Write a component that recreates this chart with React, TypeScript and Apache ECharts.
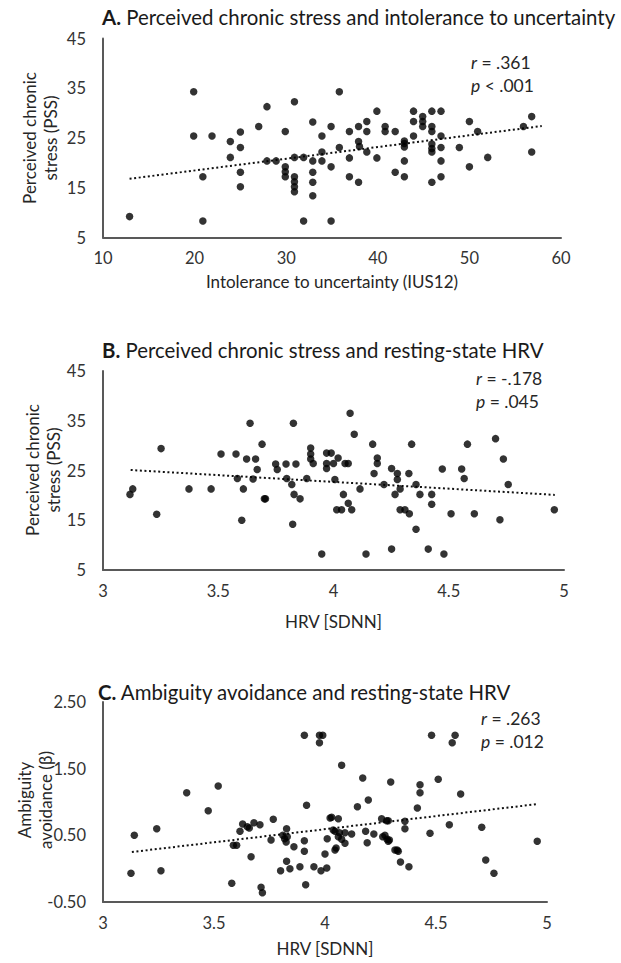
import React, { useEffect, useRef } from "react";
import * as echarts from "echarts";

// ---------- Panel A: PSS vs IUS12 ----------
const pointsA: [number, number][] = [
  [12.9, 9.2], [19.9, 34.3], [19.9, 25.4], [21.9, 25.4], [20.9, 17.2], [20.9, 8.3],
  [23.9, 24.3], [23.9, 21.1], [25, 26.2], [25, 23.1], [25, 18.1], [25, 15.2],
  [27, 27.3], [27.9, 31.3], [27.9, 20.4], [28.9, 20.4], [29.9, 26.3], [29.9, 19.2],
  [29.9, 18.2], [29.9, 17.2], [30.9, 32.3], [30.9, 21.1], [30.9, 17.2], [30.9, 16.2],
  [30.9, 15.2], [30.9, 14.2], [31.9, 21.1], [31.9, 8.3], [32.9, 28.2], [32.9, 20.4],
  [32.9, 18.1], [32.9, 16.1], [32.9, 13.4], [33.9, 25.4], [33.9, 22.2], [33.9, 20.4],
  [34.9, 27.3], [34.9, 19.2], [34.9, 8.3], [35.8, 34.3], [35.8, 23.1], [36.9, 26.3],
  [36.9, 21], [36.9, 17.2], [37.9, 27.3], [37.9, 24.3], [38, 23.3], [37.9, 16.1],
  [38.8, 28.3], [38.8, 26.3], [38.8, 22.2], [39.9, 30.4], [39.9, 21], [40.8, 27.3],
  [40.8, 26.3], [41.9, 26.3], [41.9, 18.1], [42.9, 24.4], [42.9, 23.9], [42.9, 23.2],
  [42.9, 20.4], [42.9, 17.2], [43.9, 30.4], [43.9, 28.3], [43.9, 25.4], [44.9, 29.3],
  [44.9, 28.3], [44.9, 27.3], [45.9, 30.4], [45.9, 27.3], [45.9, 26.3], [45.9, 23.8],
  [45.9, 22.9], [45.9, 22.2], [45.9, 16.1], [46.9, 30.4], [46.9, 25.4], [46.9, 23.1],
  [46.9, 20.4], [46.9, 17.2], [48.9, 23.1], [50, 28.3], [50, 19.2], [50.9, 26.3],
  [52, 21.1], [55.9, 27.3], [56.8, 29.3], [56.8, 22.2],
];
const trendA: [number, number][] = [[12.9, 16.8], [57.9, 27.4]];

// ---------- Panel B: PSS vs HRV ----------
const pointsB: [number, number][] = [
  [3.117, 20.2], [3.129, 21.3], [3.252, 29.4], [3.233, 16.2], [3.373, 21.3], [3.469, 21.3],
  [3.512, 28.3], [3.577, 28.3], [3.583, 23.4], [3.602, 15.0], [3.609, 21.3], [3.623, 27.3],
  [3.638, 34.5], [3.651, 23.3], [3.662, 27.3], [3.669, 25.2], [3.69, 30.3], [3.70, 19.3],
  [3.705, 19.3], [3.749, 26.3], [3.756, 25.2], [3.794, 26.3], [3.797, 23.4], [3.819, 22.2],
  [3.823, 14.2], [3.826, 34.5], [3.829, 20.2], [3.837, 26.3], [3.855, 19.3], [3.884, 23.4],
  [3.901, 29.5], [3.901, 28.3], [3.901, 27.3], [3.912, 26.4], [3.949, 8.2], [3.97, 28.5],
  [3.99, 28.5], [3.97, 26.4], [3.97, 25.4], [4.006, 23.2], [4.02, 27.5], [4.0, 26.4],
  [4.05, 26.4], [4.064, 26.4], [4.043, 20.2], [4.014, 17.1], [4.035, 17.1], [4.064, 18.4],
  [4.079, 17.1], [4.072, 36.5], [4.09, 32.3], [4.115, 21.3], [4.141, 8.2], [4.17, 30.3],
  [4.19, 27.5], [4.19, 26.4], [4.176, 24.4], [4.219, 22.2], [4.252, 25.4], [4.277, 24.4],
  [4.277, 23.2], [4.267, 20.2], [4.289, 21.3], [4.339, 30.3], [4.327, 24.4], [4.358, 22.2],
  [4.375, 20.2], [4.426, 20.2], [4.426, 18.2], [4.358, 13.2], [4.289, 17.1], [4.31, 17.1],
  [4.329, 16.3], [4.252, 9.2], [4.411, 9.2], [4.479, 8.2], [4.472, 25.3], [4.51, 16.3],
  [4.556, 25.3], [4.567, 23.4], [4.581, 30.3], [4.611, 16.3], [4.703, 31.4], [4.737, 27.3],
  [4.758, 22.2], [4.722, 15.1], [4.958, 17.1],
];
const trendB: [number, number][] = [[3.12, 25.1], [4.96, 20.1]];

// ---------- Panel C: Ambiguity avoidance vs HRV ----------
const pointsC: [number, number][] = [
  [3.126, -0.07], [3.141, 0.5], [3.242, 0.6], [3.261, -0.03], [3.377, 1.14], [3.474, 0.87],
  [3.519, 1.24], [3.58, -0.22], [3.587, 0.35], [3.602, 0.35], [3.617, 0.56], [3.629, 0.67],
  [3.65, 0.63], [3.659, 0.61], [3.68, 0.69], [3.707, 0.66], [3.667, 0.18], [3.712, -0.28],
  [3.718, -0.36], [3.757, 0.43], [3.767, 0.74], [3.80, -0.03], [3.81, 0.5], [3.818, 0.45],
  [3.825, 0.40], [3.827, 0.6], [3.83, 0.48], [3.827, 0.11], [3.842, 0.0], [3.86, 0.33],
  [3.887, 0.03], [3.907, 2.0], [3.907, 0.42], [3.907, 0.26], [3.913, -0.24], [3.917, 0.95],
  [3.95, 0.03], [3.975, 2.0], [3.99, 2.0], [3.975, 1.89], [3.982, -0.03], [4.0, 0.22],
  [4.01, 0.45], [4.008, 0.01], [4.023, 0.76], [4.03, 0.77], [4.06, 0.75], [4.037, 0.58],
  [4.045, 0.56], [4.065, 0.54], [4.09, 0.54], [4.12, 0.52], [4.06, 0.48], [4.075, 0.44],
  [4.09, 0.38], [4.05, 0.31], [4.045, 0.28], [4.075, 1.55], [4.146, 0.93], [4.17, 1.36],
  [4.195, 1.03], [4.183, 0.56], [4.19, 0.39], [4.22, 0.52], [4.255, 0.75], [4.278, 0.72],
  [4.285, 0.72], [4.26, 0.48], [4.27, 0.5], [4.28, 0.44], [4.29, 0.43], [4.285, 0.41],
  [4.296, 1.30], [4.315, 0.28], [4.325, 0.28], [4.33, 0.26], [4.34, 0.1], [4.36, 0.71],
  [4.36, 0.6], [4.378, 0.03], [4.416, 0.91], [4.428, 1.26], [4.428, 1.14], [4.473, 0.53],
  [4.48, 2.0], [4.51, 1.34], [4.56, 0.66], [4.573, 1.89], [4.586, 2.0], [4.611, 1.12],
  [4.706, 0.62], [4.724, 0.13], [4.761, -0.07], [4.956, 0.41],
];
const trendC: [number, number][] = [[3.13, 0.25], [4.96, 0.97]];

// ---------- Axis ranges ----------
const xRangeA = { min: 10, max: 60, interval: 10 };
const yRangeA = { min: 5, max: 45, interval: 10 };
const xRangeB = { min: 3, max: 5, interval: 0.5 };
const yRangeB = { min: 5, max: 45, interval: 10 };
const xRangeC = { min: 3, max: 5, interval: 0.5 };
const yRangeC = { min: -0.5, max: 2.5, interval: 1 };

// ---------- Texts ----------
const titles = [
  "{b|A.} Perceived chronic stress and intolerance to uncertainty",
  "{b|B.} Perceived chronic stress and resting-state HRV",
  "{b|C.} Ambiguity avoidance and resting-state HRV",
];
const stats = [
  ["{i|r} = .361", "{i|p} < .001"],
  ["{i|r} = -.178", "{i|p} = .045"],
  ["{i|r} = .263", "{i|p} = .012"],
];
const yNames = [
  "Perceived chronic\nstress (PSS)",
  "Perceived chronic\nstress (PSS)",
  "Ambiguity\navoidance (β)",
];
const xNames = ["Intolerance to uncertainty (IUS12)", "HRV [SDNN]", "HRV [SDNN]"];

const FONT = "Lato, 'Open Sans', sans-serif";

export default function App() {
  const ref = useRef<HTMLDivElement>(null);
  useEffect(() => {
    if (!ref.current) return;
    const chart = echarts.init(ref.current, null, { renderer: "svg" });
    const axisLine = { show: true, onZero: false, lineStyle: { color: "#595959", width: 2 } };
    const labelStyle = { fontSize: 16.5, color: "#333", fontFamily: FONT };

    const makeX = (gridIndex: number, r: any) => ({
      type: "value",
      gridIndex,
      ...r,
      axisLine,
      axisTick: { show: false },
      splitLine: { show: false },
      axisLabel: { ...labelStyle, margin: 12 },
    });
    const makeY = (gridIndex: number, r: any, fmt?: (v: number) => string) => ({
      type: "value",
      gridIndex,
      ...r,
      axisLine,
      axisTick: { show: false },
      splitLine: { show: false },
      axisLabel: { ...labelStyle, margin: 17, formatter: fmt },
    });

    const grids = [
      { left: 103, top: 38.5, width: 458, height: 199 },
      { left: 103, top: 371, width: 461, height: 199 },
      { left: 103, top: 702, width: 444, height: 200 },
    ];
    const titleY = [17, 350, 692];
    const titleX = [102, 102, 98];
    const statX = [471, 476, 481];
    const statY = [62, 378, 718];
    const yNameX = [40, 43, 35];
    const yNameY = [138, 470, 800];
    const xNameY = [281, 621, 948];
    const TITLE_SIZE = 20.4;
    const STAT_SIZE = 17.5;
    const NAME_SIZE = 17;

    const graphic: any[] = [];
    for (let i = 0; i < 3; i++) {
      graphic.push({
        type: "text",
        x: titleX[i],
        y: titleY[i],
        style: {
          text: titles[i],
          fontSize: TITLE_SIZE,
          fontFamily: FONT,
          fill: "#1a1a1a",
          textVerticalAlign: "middle",
          verticalAlign: "middle",
          rich: { b: { fontWeight: "bold", fontSize: TITLE_SIZE, fontFamily: FONT, fill: "#1a1a1a" } },
        },
      });
      stats[i].forEach((s, j) => {
        graphic.push({
          type: "text",
          x: statX[i],
          y: statY[i] + j * 23.5,
          style: {
            text: s,
            fontSize: STAT_SIZE,
            fontFamily: FONT,
            fill: "#262626",
            textVerticalAlign: "middle",
            verticalAlign: "middle",
            rich: { i: { fontStyle: "italic", fontSize: STAT_SIZE, fontFamily: FONT, fill: "#262626" } },
          },
        });
      });
      graphic.push({
        type: "text",
        x: yNameX[i],
        y: yNameY[i],
        rotation: Math.PI / 2,
        style: {
          text: yNames[i],
          fontSize: NAME_SIZE,
          lineHeight: 21,
          fontFamily: FONT,
          fill: "#262626",
          textAlign: "center",
          align: "center",
          textVerticalAlign: "middle",
          verticalAlign: "middle",
        },
      });
      const g = grids[i];
      graphic.push({
        type: "text",
        x: g.left + g.width / 2,
        y: xNameY[i],
        style: {
          text: xNames[i],
          fontSize: NAME_SIZE,
          fontFamily: FONT,
          fill: "#262626",
          textAlign: "center",
          align: "center",
          textVerticalAlign: "middle",
          verticalAlign: "middle",
        },
      });
    }

    const scatter = (idx: number, data: [number, number][]) => ({
      type: "scatter",
      xAxisIndex: idx,
      yAxisIndex: idx,
      data,
      symbolSize: 7.5,
      itemStyle: { color: "#000" },
      z: 3,
    });
    const trend = (idx: number, data: [number, number][]) => ({
      type: "line",
      xAxisIndex: idx,
      yAxisIndex: idx,
      data,
      showSymbol: false,
      symbol: "none",
      lineStyle: { color: "#111", width: 2, type: [2, 2.6] },
      z: 2,
    });

    chart.setOption({
      animation: false,
      backgroundColor: "#fff",
      grid: grids,
      xAxis: [makeX(0, xRangeA), makeX(1, xRangeB), makeX(2, xRangeC)],
      yAxis: [
        makeY(0, yRangeA),
        makeY(1, yRangeB),
        makeY(2, yRangeC, (v: number) => v.toFixed(2)),
      ],
      series: [
        scatter(0, pointsA), trend(0, trendA),
        scatter(1, pointsB), trend(1, trendB),
        scatter(2, pointsC), trend(2, trendC),
      ],
      graphic,
    });
    return () => chart.dispose();
  }, []);
  return (
    <div
      ref={ref}
      style={{ position: "absolute", left: 0, top: 0, width: 621, height: 963 }}
    />
  );
}
